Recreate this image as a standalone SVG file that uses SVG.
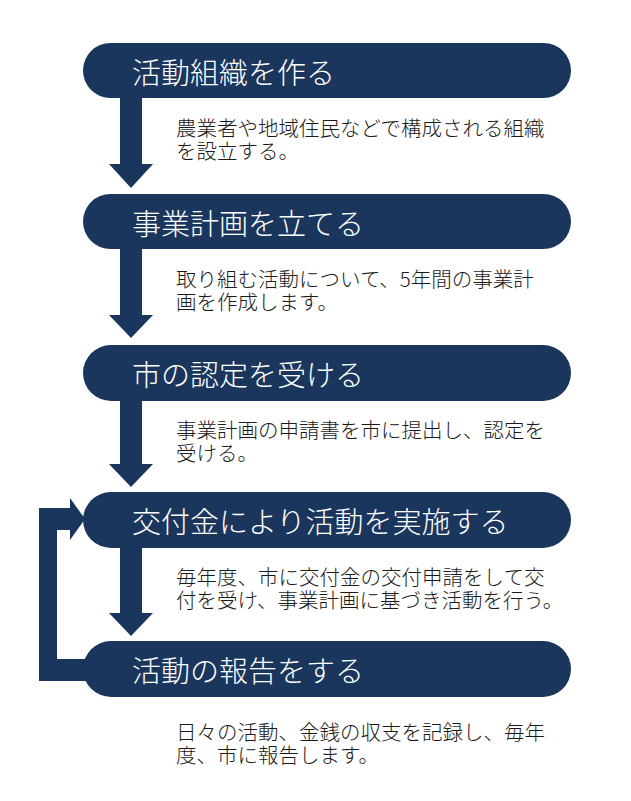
<svg xmlns="http://www.w3.org/2000/svg" width="631" height="801" viewBox="0 0 631 801">
<style>
.pill{fill:#1b365d}
.arr{fill:#1b365d}
.t{font-family:"Noto Sans CJK JP","Noto Sans",sans-serif;font-size:29px;font-weight:300;fill:#ffffff}
.d{font-family:"Noto Sans CJK JP","Noto Sans",sans-serif;font-size:20.5px;font-weight:300;fill:#1a1a1a}
</style>
<rect width="631" height="801" fill="#ffffff"/>
<g id="connectors">
<polygon class="arr" points="120,97 142,97 142,164 153,164 131,188 109,164 120,164"/>
<polygon class="arr" points="120,248 142,248 142,315 153,315 131,338 109,315 120,315"/>
<polygon class="arr" points="120,400 142,400 142,464 153,464 131,487 109,464 120,464"/>
<polygon class="arr" points="120,547 142,547 142,613 153,613 131,636 109,613 120,613"/>
<polygon class="arr" points="95,659 57,659 57,530 70,530 70,540 85,519 70,498 70,508 39,508 39,681 95,681"/>
</g>
<g id="node1">
<rect class="pill" x="83" y="43" width="488" height="55" rx="27.5"/>
<text class="t" x="132" y="84">活動組織を作る</text>
<text class="d" x="176" y="136">農業者や地域住民などで構成される組織<tspan x="176" dy="23">を設立する。</tspan></text>
</g>
<g id="node2">
<rect class="pill" x="83" y="194" width="488" height="55" rx="27.5"/>
<text class="t" x="132" y="235">事業計画を立てる</text>
<text class="d" x="176" y="287">取り組む活動について、5年間の事業計<tspan x="176" dy="23">画を作成します。</tspan></text>
</g>
<g id="node3">
<rect class="pill" x="83" y="345" width="488" height="56" rx="28"/>
<text class="t" x="132" y="386">市の認定を受ける</text>
<text class="d" x="176" y="438">事業計画の申請書を市に提出し、認定を<tspan x="176" dy="23">受ける。</tspan></text>
</g>
<g id="node4">
<rect class="pill" x="83" y="492" width="488" height="56" rx="28"/>
<text class="t" x="132" y="533">交付金により活動を実施する</text>
<text class="d" x="176" y="585">毎年度、市に交付金の交付申請をして交<tspan x="176" dy="23">付を受け、事業計画に基づき活動を行う。</tspan></text>
</g>
<g id="node5">
<rect class="pill" x="83" y="641" width="488" height="56" rx="28"/>
<text class="t" x="132" y="682">活動の報告をする</text>
<text class="d" x="176" y="740">日々の活動、金銭の収支を記録し、毎年<tspan x="176" dy="23">度、市に報告します。</tspan></text>
</g>
</svg>
